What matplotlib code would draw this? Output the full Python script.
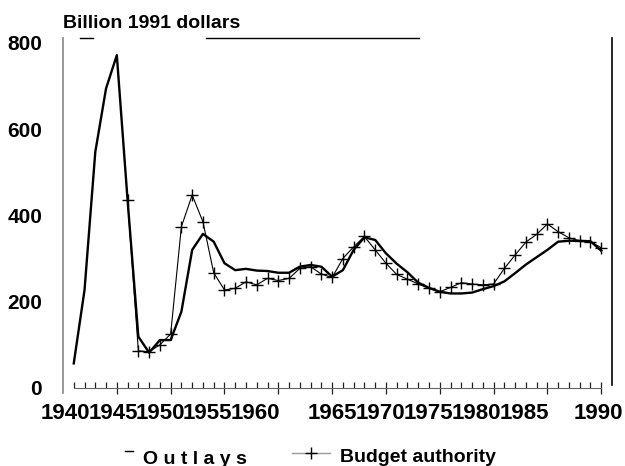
"""
国防支出图 (1991年不变价)
Outlays vs budget authority, 1941-1990
"""

import matplotlib
matplotlib.use('Agg')
import matplotlib.pyplot as plt
from matplotlib.lines import Line2D

plt.rcParams['font.family'] = ['Liberation Sans', 'DejaVu Sans']
plt.rcParams['font.weight'] = 'bold'

# 数据 (从图中读取, 十亿美元 1991)
years_out = list(range(1941, 1991))
outlays = [57, 227, 547, 694, 771, 435, 119, 82, 111, 111,
           177, 320, 357, 339, 289, 273, 276, 272, 271, 267,
           267, 281, 285, 281, 258, 273, 320, 349, 343, 312,
           288, 268, 244, 232, 223, 219, 219, 221, 229, 236,
           247, 266, 286, 303, 320, 339, 341, 341, 340, 318]

years_ba = list(range(1946, 1991))
budget_authority = [435, 86, 84, 100, 125, 374, 447, 385, 267, 227,
                    231, 246, 239, 254, 249, 254, 277, 281, 264, 256,
                    300, 327, 351, 320, 289, 263, 252, 241, 231, 223,
                    233, 244, 241, 239, 241, 277, 308, 338, 356, 380,
                    362, 348, 341, 339, 325]

y_ticks = [0, 200, 400, 600, 800]
x_labels = ['1940', '1945', '1950', '1955', '1960',
            '1965', '1970', '1975', '1980', '1985', '1990']
# 原图标签位置不在刻度上, 按原图位置放
x_label_pos = [1940.22, 1944.67, 1949.08, 1953.45, 1957.85,
               1965.05, 1969.5, 1973.95, 1978.4, 1982.85, 1989.7]

W, H = 625, 466
fig = plt.figure(figsize=(W / 100, H / 100), dpi=100)
ax = fig.add_axes([63 / W, 1 - 393 / H, (612 - 63) / W, (393 - 37.5) / H])
ax.set_xlim(1940, 1991)
ax.set_ylim(-11.6, 812)

ax.plot(years_out, outlays, color='black', linewidth=1.7, solid_joinstyle='round')
ax.plot(years_ba, budget_authority, color='black', linewidth=0.8,
        marker='+', markersize=8, markeredgewidth=1.0)

# 坐标轴
ax.spines['left'].set_color('#888888')
ax.spines['left'].set_linewidth(1.2)
ax.spines['right'].set_color('black')
ax.spines['right'].set_linewidth(1.2)
ax.spines['right'].set_bounds(7, 812)
ax.spines['top'].set_visible(False)
ax.spines['bottom'].set_position(('data', 0))
ax.spines['bottom'].set_bounds(1941, 1990)
ax.spines['bottom'].set_color('#666666')
ax.spines['bottom'].set_linewidth(0.8)

# 顶部残缺的边框线
top_tr = ax.get_xaxis_transform()
ax.plot([1941.6, 1942.8], [1.0, 1.0], color='black', lw=1.0, transform=top_tr, clip_on=False)
ax.plot([1953.3, 1973.1], [1.0, 1.0], color='black', lw=1.0, transform=top_tr, clip_on=False)

ax.set_xticks(list(range(1945, 1991, 5)))
ax.set_xticks(years_out, minor=True)
ax.tick_params(axis='x', which='major', direction='inout', length=8, width=0.9,
               color='#222222', labelbottom=False)
ax.tick_params(axis='x', which='minor', direction='in', length=4, width=0.9,
               color='#222222')

ax.set_yticks(y_ticks)
ax.set_yticklabels([str(v) for v in y_ticks], fontsize=15, fontweight='bold')
ax.tick_params(axis='y', length=0, pad=15)

sec = ax.secondary_xaxis('bottom')
sec.set_xticks(x_label_pos, labels=x_labels)
sec.tick_params(length=0, pad=7, labelsize=16)
for lab in sec.get_xticklabels():
    lab.set_fontweight('bold')
sec.spines['bottom'].set_visible(False)

fig.text(62.7 / W, 1 - 28.3 / H, 'Billion 1991 dollars', fontsize=14,
         fontweight='bold', ha='left', va='baseline')

# 图例
fig.add_artist(Line2D([125 / W, 133 / W], [1 - 451 / H] * 2, color='black', lw=1.0))
fig.text(143 / W, 1 - 463.5 / H, 'O u t l a y s', fontsize=14, fontweight='bold',
         ha='left', va='baseline')
fig.add_artist(Line2D([292 / W, 330 / W], [1 - 453 / H] * 2, color='#999999', lw=1.0))
fig.add_artist(Line2D([311 / W], [1 - 453 / H], color='black', marker='+',
                      markersize=8, markeredgewidth=1.0, linestyle='none'))
fig.text(340 / W, 1 - 461.7 / H, 'Budget authority', fontsize=14, fontweight='bold',
         ha='left', va='baseline')

fig.savefig('out.png', dpi=100)
